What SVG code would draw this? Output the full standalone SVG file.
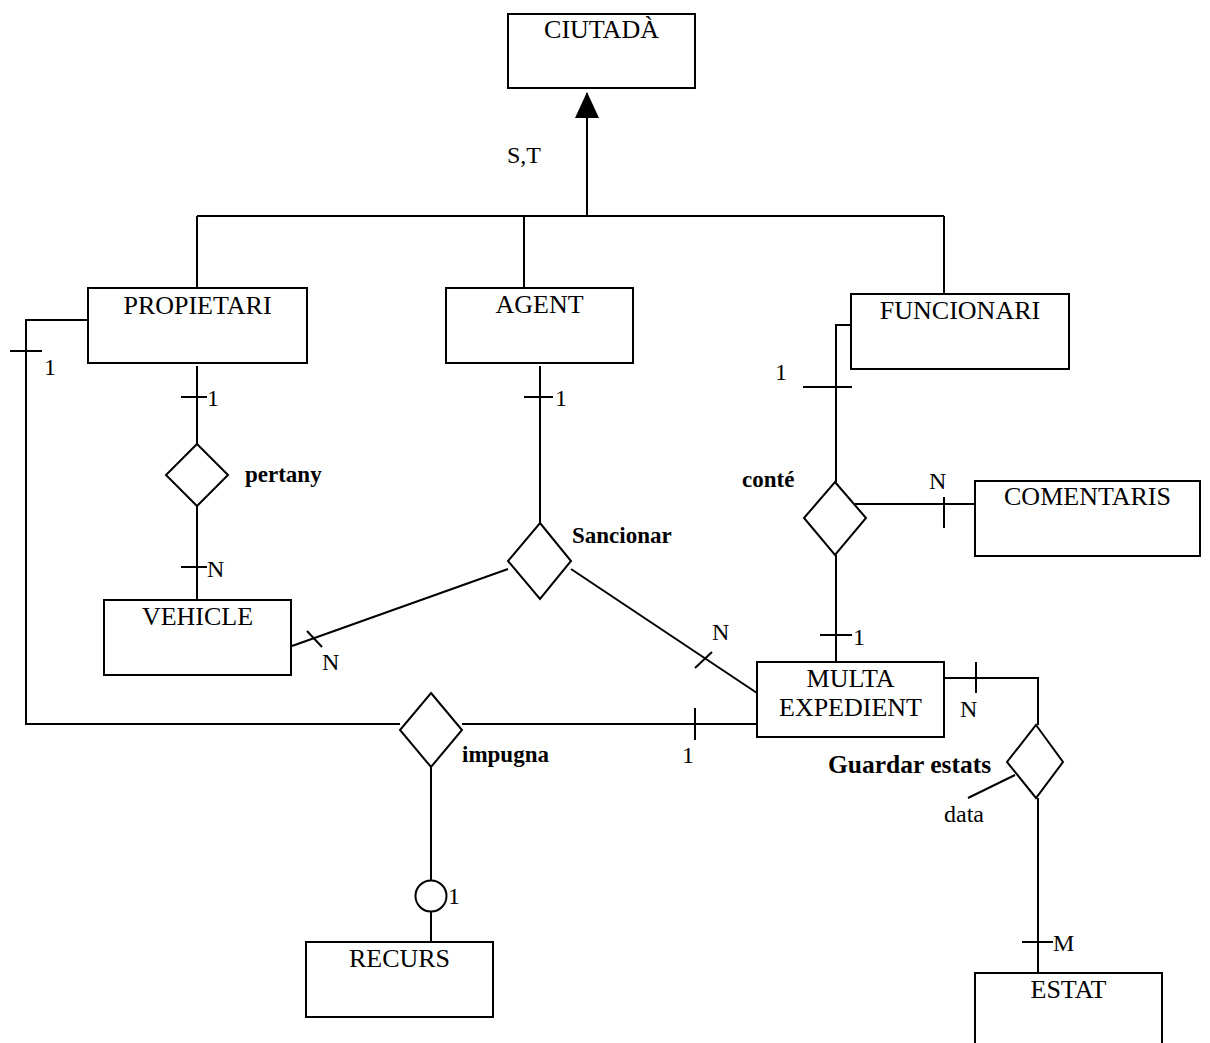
<svg xmlns="http://www.w3.org/2000/svg" width="1210" height="1043" viewBox="0 0 1210 1043">
<style>
.box{fill:#fff;stroke:#000;stroke-width:2}
.dia{fill:#fff;stroke:#000;stroke-width:2}
.ln{fill:none;stroke:#000;stroke-width:2}
.t{font-family:"Liberation Serif","Times New Roman",serif;font-size:24px;fill:#000}
.e{font-size:26px}
.c{text-anchor:middle}
.b{font-weight:bold;font-size:23px}
</style>
<defs>
<marker id="tri" viewBox="0 0 26 24" refX="25" refY="12" markerWidth="26" markerHeight="24" markerUnits="userSpaceOnUse" orient="auto">
<path d="M0,0 L26,12 L0,24 Z" fill="#000"/>
</marker>
</defs>
<rect width="1210" height="1043" fill="#fff"/>
<g id="connectors">
<line class="ln" x1="587" y1="216" x2="587" y2="93" marker-end="url(#tri)"/>
<line class="ln" x1="197" y1="216" x2="944" y2="216"/>
<line class="ln" x1="197" y1="216" x2="197" y2="288"/>
<line class="ln" x1="524" y1="216" x2="524" y2="288"/>
<line class="ln" x1="944" y1="216" x2="944" y2="294"/>
<polyline class="ln" points="88,320 26,320 26,724 400,724"/>
<line class="ln" x1="10" y1="351" x2="42" y2="351"/>
<line class="ln" x1="197" y1="366" x2="197" y2="444"/>
<line class="ln" x1="181" y1="397" x2="207" y2="397"/>
<line class="ln" x1="197" y1="506" x2="197" y2="600"/>
<line class="ln" x1="181" y1="567" x2="207" y2="567"/>
<line class="ln" x1="540" y1="366" x2="540" y2="523"/>
<line class="ln" x1="524" y1="397" x2="553" y2="397"/>
<line class="ln" x1="508" y1="569" x2="292" y2="646"/>
<line class="ln" x1="307" y1="631" x2="322" y2="647"/>
<line class="ln" x1="571" y1="569" x2="757" y2="693"/>
<line class="ln" x1="695" y1="668" x2="712" y2="652"/>
<line class="ln" x1="462" y1="724" x2="757" y2="724"/>
<line class="ln" x1="695" y1="708" x2="695" y2="740"/>
<line class="ln" x1="431" y1="767" x2="431" y2="880"/>
<circle class="ln" cx="431" cy="896" r="15.5"/>
<line class="ln" x1="431" y1="911" x2="431" y2="942"/>
<polyline class="ln" points="851,325 836,325 836,482"/>
<line class="ln" x1="803" y1="387" x2="852" y2="387"/>
<line class="ln" x1="855" y1="504" x2="983" y2="504"/>
<line class="ln" x1="944" y1="497" x2="944" y2="528"/>
<line class="ln" x1="836" y1="555" x2="836" y2="662"/>
<line class="ln" x1="820" y1="635" x2="852" y2="635"/>
<polyline class="ln" points="944,678 1038,678 1038,725"/>
<line class="ln" x1="976" y1="662" x2="976" y2="693"/>
<line class="ln" x1="1038" y1="798" x2="1038" y2="973"/>
<line class="ln" x1="1022" y1="942" x2="1053" y2="942"/>
<line class="ln" x1="1015" y1="775" x2="968" y2="798"/>
</g>
<g id="ciutada"><rect class="box" x="508" y="14" width="187" height="74"/><text class="t e c" x="601.5" y="38">CIUTADÀ</text></g>
<text id="st" class="t" x="507" y="163">S,T</text>
<g id="propietari"><rect class="box" x="88" y="288" width="219" height="75"/><text class="t e c" x="197.5" y="314">PROPIETARI</text></g>
<g id="agent"><rect class="box" x="446" y="288" width="187" height="75"/><text class="t e c" x="539.5" y="313">AGENT</text></g>
<g id="funcionari"><rect class="box" x="851" y="294" width="218" height="75"/><text class="t e c" x="960" y="319">FUNCIONARI</text></g>
<g id="comentaris"><rect class="box" x="975" y="481" width="225" height="75"/><text class="t e c" x="1087.5" y="505">COMENTARIS</text></g>
<g id="vehicle"><rect class="box" x="104" y="600" width="187" height="75"/><text class="t e c" x="197.5" y="625">VEHICLE</text></g>
<g id="multa"><rect class="box" x="757" y="662" width="187" height="75"/><text class="t e c" x="850.5" y="687">MULTA</text><text class="t e c" x="850.5" y="716">EXPEDIENT</text></g>
<g id="recurs"><rect class="box" x="306" y="942" width="187" height="75"/><text class="t e c" x="399.5" y="967">RECURS</text></g>
<g id="estat"><rect class="box" x="975" y="973" width="187" height="80"/><text class="t e c" x="1068.5" y="998">ESTAT</text></g>
<g id="pertany"><polygon class="dia" points="197,444 228,475 197,506 166,475"/><text class="t b" x="245" y="482">pertany</text></g>
<g id="sancionar"><polygon class="dia" points="540,523 571,561 540,599 508,561"/><text class="t b" x="572" y="543">Sancionar</text></g>
<g id="conte"><polygon class="dia" points="835,482 866,518 835,555 804,518"/><text class="t b" x="742" y="487">conté</text></g>
<g id="impugna"><polygon class="dia" points="431,693 462,730 431,767 400,730"/><text class="t b" x="462" y="762">impugna</text></g>
<g id="guardar"><polygon class="dia" points="1036,725 1063,762 1036,798 1007,762"/><text class="t b" x="828" y="773" style="font-size:25.5px">Guardar estats</text><text class="t" x="944" y="822">data</text></g>
<g id="cardinalities">
<text class="t" x="44" y="375">1</text>
<text class="t" x="207" y="406">1</text>
<text class="t" x="207" y="577">N</text>
<text class="t" x="555" y="406">1</text>
<text class="t" x="322" y="670">N</text>
<text class="t" x="712" y="640">N</text>
<text class="t" x="682" y="763">1</text>
<text class="t" x="775" y="380">1</text>
<text class="t" x="929" y="489">N</text>
<text class="t" x="853" y="645">1</text>
<text class="t" x="960" y="717">N</text>
<text class="t" x="1053" y="951">M</text>
<text class="t" x="448" y="904">1</text>
</g>
</svg>
